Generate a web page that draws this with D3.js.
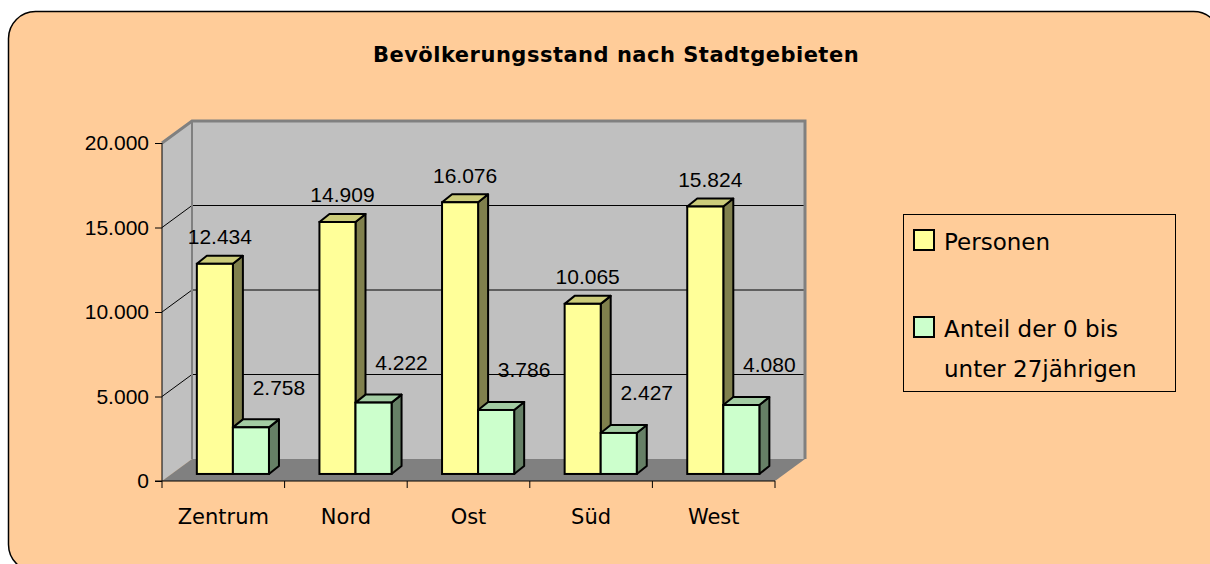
<!DOCTYPE html>
<html>
<head>
<meta charset="utf-8">
<script src="https://cdn.jsdelivr.net/npm/d3@7"></script>
<style>
  body { margin: 0; background: #fff; }
  svg { display: block; }
</style>
</head>
<body>
<div id="chart"></div>
<script>
// data
const categories = ["Zentrum", "Nord", "Ost", "Süd", "West"];
const seriesNames = ["Personen", "Anteil der 0 bis unter 27jährigen"];
const personen = [12434, 14909, 16076, 10065, 15824];
const anteil = [2758, 4222, 3786, 2427, 4080];
const yTicks = [0, 5000, 10000, 15000, 20000];
const title = "Bevölkerungsstand nach Stadtgebieten";

const width = 1210;
const height = 564;

const svg = d3.select("#chart")
  .append("svg")
  .attr("width", width)
  .attr("height", height);

// outer frame
svg.append("rect")
  .attr("x", 8.5).attr("y", 11.5)
  .attr("width", 1212).attr("height", 560)
  .attr("rx", 27).attr("ry", 27)
  .attr("fill", "#ffcc99")
  .attr("stroke", "#000")
  .attr("stroke-width", 1.5);

// title
svg.append("text")
  .attr("x", 616)
  .attr("y", 62)
  .attr("text-anchor", "middle")
  .attr("font-family", "DejaVu Sans")
  .attr("font-weight", "bold")
  .attr("font-size", "21px")
  .attr("letter-spacing", "0.5px")
  .text(title);

// scales (front plane)
const xScale = d3.scaleBand()
  .domain(categories)
  .range([162, 775]);

const yScale = d3.scaleLinear()
  .domain([0, 20000])
  .range([481, 143]);

// depth of the 3d box
const DX = 30, DY = -22;

const subScale = d3.scaleBand()
  .domain(seriesNames)
  .range([0, xScale.bandwidth()])
  .paddingInner(0)
  .paddingOuter(0.7);

const x0 = xScale.range()[0], x1 = xScale.range()[1];
const yb = yScale(0), yt = yScale(20000);

// side wall
svg.append("path")
  .attr("d", `M${x0},${yt} L${x0 + DX},${yt + DY} L${x0 + DX},${yb + DY} L${x0},${yb} Z`)
  .attr("fill", "#c0c0c0");

// back wall
svg.append("rect")
  .attr("x", x0 + DX).attr("y", yt + DY)
  .attr("width", x1 - x0).attr("height", yb - yt)
  .attr("fill", "#c0c0c0");

// floor
svg.append("path")
  .attr("d", `M${x0},${yb} L${x1},${yb} L${x1 + DX},${yb + DY} L${x0 + DX},${yb + DY} Z`)
  .attr("fill", "#808080");

// gridlines on back wall + diagonals on side wall
const grid = svg.append("g");
yTicks.filter(d => d > 0 && d < 20000).forEach(t => {
  grid.append("line")
    .attr("x1", x0 + DX).attr("x2", x1 + DX)
    .attr("y1", yScale(t) + DY).attr("y2", yScale(t) + DY)
    .attr("stroke", "#000").attr("stroke-width", 1);
  grid.append("line")
    .attr("x1", x0).attr("x2", x0 + DX)
    .attr("y1", yScale(t)).attr("y2", yScale(t) + DY)
    .attr("stroke", "#000").attr("stroke-width", 1);
});

// wall borders (gray)
svg.append("path")
  .attr("d", `M${x0},${yt} L${x0 + DX},${yt + DY} L${x1 + DX},${yt + DY} L${x1 + DX},${yb + DY}`)
  .attr("fill", "none")
  .attr("stroke", "#808080")
  .attr("stroke-width", 3);
svg.append("line")
  .attr("x1", x0 + DX).attr("x2", x0 + DX)
  .attr("y1", yt + DY).attr("y2", yb + DY)
  .attr("stroke", "#808080")
  .attr("stroke-width", 2);

// bars
const f0 = 0.32;
const bdx = 10, bdy = -8;
const colors = {
  "Personen": { front: "#ffff99", top: "#cccc7a", side: "#80804d" },
  "Anteil der 0 bis unter 27jährigen": { front: "#ccffcc", top: "#a3cca3", side: "#668066" }
};
const labelOffset = {
  "Personen": { dx: 5, dy: -27 },
  "Anteil der 0 bis unter 27jährigen": { dx: 28, dy: -40 }
};

const rows = [];
categories.forEach((c, i) => {
  rows.push({ cat: c, key: seriesNames[0], value: personen[i] });
  rows.push({ cat: c, key: seriesNames[1], value: anteil[i] });
});

const fmt = v => d3.format(",")(v).replace(/,/g, ".");

const bars = svg.append("g")
  .selectAll("g")
  .data(rows)
  .join("g");

bars.each(function(d) {
  const g = d3.select(this);
  const w = subScale.bandwidth();
  const xl = xScale(d.cat) + subScale(d.key) + f0 * DX;
  const xr = xl + w;
  const top = yScale(d.value) + f0 * DY;
  const bot = yScale(0) + f0 * DY;
  const col = colors[d.key];
  g.append("path")
    .attr("d", `M${xr},${top} L${xr + bdx},${top + bdy} L${xr + bdx},${bot + bdy} L${xr},${bot} Z`)
    .attr("fill", col.side).attr("stroke", "#000").attr("stroke-width", 2)
    .attr("stroke-linejoin", "round");
  g.append("path")
    .attr("d", `M${xl},${top} L${xr},${top} L${xr + bdx},${top + bdy} L${xl + bdx},${top + bdy} Z`)
    .attr("fill", col.top).attr("stroke", "#000").attr("stroke-width", 2)
    .attr("stroke-linejoin", "round");
  g.append("rect")
    .attr("x", xl).attr("y", top)
    .attr("width", w).attr("height", bot - top)
    .attr("fill", col.front).attr("stroke", "#000").attr("stroke-width", 2);
});

// data labels
svg.append("g")
  .selectAll("text")
  .data(rows)
  .join("text")
  .attr("x", d => xScale(d.cat) + subScale(d.key) + f0 * DX + subScale.bandwidth() / 2 + labelOffset[d.key].dx)
  .attr("y", d => yScale(d.value) + f0 * DY + labelOffset[d.key].dy)
  .attr("dy", "0.35em")
  .attr("text-anchor", "middle")
  .attr("font-family", "Liberation Sans, Arial, sans-serif")
  .attr("font-size", "21px")
  .text(d => fmt(d.value));

// Y axis
const yAxis = svg.append("g")
  .attr("transform", `translate(${x0},0)`)
  .call(d3.axisLeft(yScale).tickValues(yTicks).tickSize(7).tickPadding(6).tickFormat(fmt));
yAxis.selectAll(".domain").attr("stroke", "#000").attr("d", `M0,${yb}V${yt}`);
yAxis.selectAll("text")
  .attr("font-family", "Liberation Sans, Arial, sans-serif")
  .attr("font-size", "21px")
  .attr("fill", "#000");

// X axis
const xAxis = svg.append("g")
  .attr("transform", `translate(0,${yb})`)
  .call(d3.axisBottom(xScale).tickSize(0).tickPadding(28));
xAxis.select(".domain").attr("d", `M${x0 - 7},0H${x1}`);
xAxis.selectAll("text")
  .attr("font-family", "DejaVu Sans, sans-serif")
  .attr("font-size", "21px")
  .attr("fill", "#000");
// category separators
xAxis.append("g")
  .selectAll("line")
  .data(categories.concat(["__end"]))
  .join("line")
  .attr("x1", (d, i) => i < categories.length ? xScale(d) : x1)
  .attr("x2", (d, i) => i < categories.length ? xScale(d) : x1)
  .attr("y1", 0).attr("y2", 7)
  .attr("stroke", "#000");

// legend
const legend = svg.append("g")
  .attr("transform", "translate(903,214)");
legend.append("rect")
  .attr("x", 0.5).attr("y", 0.5)
  .attr("width", 272).attr("height", 177)
  .attr("fill", "none")
  .attr("stroke", "#000")
  .attr("stroke-width", 1);

const legendLines = [["Personen"], ["Anteil der 0 bis", "unter 27jährigen"]];
const legendY = [36, 123];
legendLines.forEach((lines, i) => {
  legend.append("rect")
    .attr("x", 11).attr("y", legendY[i] - 20)
    .attr("width", 20).attr("height", 20)
    .attr("fill", colors[seriesNames[i]].front)
    .attr("stroke", "#000").attr("stroke-width", 2);
  lines.forEach((t, j) => {
    legend.append("text")
      .attr("x", 41)
      .attr("y", legendY[i] + j * 40)
      .attr("font-family", "DejaVu Sans, sans-serif")
      .attr("font-size", "23px")
      .text(t);
  });
});
</script>
</body>
</html>
